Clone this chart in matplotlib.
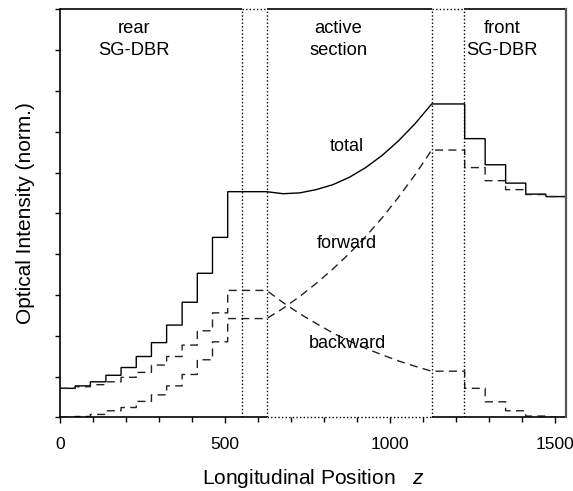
import matplotlib
matplotlib.use("Agg")
import matplotlib.pyplot as plt
from matplotlib.ticker import MultipleLocator, NullFormatter

plt.rcParams["font.family"] = ["Liberation Sans", "DejaVu Sans"]
plt.rcParams["mathtext.fontset"] = "custom"
plt.rcParams["mathtext.rm"] = "Liberation Sans"
plt.rcParams["mathtext.it"] = "Liberation Sans:italic"

# ---- rear SG-DBR: grating period edges and intensity levels (step-wise) ----
rear_z = [0, 46, 92, 139, 185, 231, 277, 323, 370, 416, 462, 508]
rear_total = [0.71, 0.77, 0.87, 1.03, 1.22, 1.49, 1.83, 2.26, 2.82, 3.53, 4.41, 5.53]
rear_forward = [0.00, 0.02, 0.07, 0.16, 0.24, 0.39, 0.55, 0.77, 1.05, 1.41, 1.85, 2.42]
rear_backward = [0.71, 0.75, 0.80, 0.87, 0.98, 1.10, 1.28, 1.49, 1.77, 2.12, 2.56, 3.11]

# ---- active section: sampled intensity along z ----
active_z = [626, 676, 726, 776, 826, 876, 926, 976, 1026, 1076, 1126]
active_total = [5.53, 5.48, 5.50, 5.58, 5.70, 5.88, 6.12, 6.42, 6.78, 7.20, 7.68]
active_forward = [2.42, 2.67, 2.96, 3.28, 3.63, 4.01, 4.43, 4.89, 5.40, 5.95, 6.55]
active_backward = [3.11, 2.81, 2.54, 2.30, 2.07, 1.87, 1.69, 1.53, 1.38, 1.25, 1.13]

# ---- front SG-DBR (preceded by the passive stretch after the active section) ----
front_z = [1126, 1226, 1288, 1350, 1411, 1472]
front_total = [7.68, 6.83, 6.19, 5.74, 5.47, 5.41]
front_forward = [6.55, 6.12, 5.80, 5.58, 5.46, 5.41]
front_backward = [1.13, 0.71, 0.38, 0.16, 0.03, 0.00]

z_end = 1532

# section boundaries (dotted)
section_edges = [551, 626, 1126, 1225]

section_names = ["rear\nSG-DBR", "active\nsection", "front\nSG-DBR"]
section_name_z = [224, 843, 1340]

curve_names = ["total", "forward", "backward"]
curve_name_pos = [(869, 6.63), (869, 4.26), (871, 1.81)]


def steps(edges, levels, end):
    xs, ys = [], []
    for i, v in enumerate(levels):
        x1 = edges[i + 1] if i + 1 < len(edges) else end
        xs += [edges[i], x1]
        ys += [v, v]
    return xs, ys


def profile(rz, rv, az, av, fz, fv):
    x1, y1 = steps(rz, rv, az[0])
    x3, y3 = steps(fz, fv, z_end)
    return x1 + list(az) + x3, y1 + list(av) + y3


fig = plt.figure(figsize=(5.73, 4.91), dpi=100)
ax = fig.add_axes([60 / 573, 1 - 417.3 / 491, 505.7 / 573, 408 / 491])
ax.set_xlim(0, z_end)
ax.set_ylim(0, 10)

zt, yt = profile(rear_z, rear_total, active_z, active_total, front_z, front_total)
zf, yf = profile(rear_z, rear_forward, active_z, active_forward, front_z, front_forward)
zb, yb = profile(rear_z, rear_backward, active_z, active_backward, front_z, front_backward)

ax.plot(zt, yt, color="black", lw=1.0, solid_joinstyle="miter")
ax.plot(zf, yf, color="#222222", lw=1.0, dashes=(5.8, 3.8))
ax.plot(zb, yb, color="#222222", lw=1.0, dashes=(5.8, 3.8))

for z in section_edges:
    ax.axvline(z, color="black", lw=1.0, ls=(0, (1, 1.6)))

# frame: solid where the sections are open, dotted across the section boxes
for s in ["top", "bottom"]:
    ax.spines[s].set_visible(False)
ax.spines["left"].set_linewidth(1.2)
ax.spines["right"].set_linewidth(1.6)
ax.spines["right"].set_color("#555555")

xt = ax.get_xaxis_transform()
solid = dict(color="black", lw=1.2, transform=xt, clip_on=False, solid_capstyle="butt")
dotted = dict(color="black", lw=1.0, ls=(0, (1, 1.6)), transform=xt, clip_on=False)
e = section_edges
ax.plot([0, e[0]], [1, 1], **solid)
ax.plot([e[1], e[2]], [1, 1], **solid)
ax.plot([e[3], z_end], [1, 1], **solid)
ax.plot([e[0], e[1]], [1, 1], **dotted)
ax.plot([e[2], e[3]], [1, 1], **dotted)
ax.plot([0, e[1]], [0, 0], **solid)
ax.plot([e[2], z_end], [0, 0], **solid)
ax.plot([e[1], e[2]], [0, 0], **dotted)

ax.xaxis.set_major_locator(MultipleLocator(500))
ax.xaxis.set_minor_locator(MultipleLocator(100))
ax.yaxis.set_major_locator(MultipleLocator(1))
ax.yaxis.set_major_formatter(NullFormatter())
ax.tick_params(axis="x", which="major", direction="out", length=4.5, width=1.0,
               labelsize=12.5, pad=10)
ax.tick_params(axis="x", which="minor", direction="out", length=3.5, width=1.0)
ax.tick_params(axis="y", which="major", direction="out", length=3.6, width=1.0)
ax.tick_params(top=False, right=False)

ax.set_xlabel("Longitudinal Position   $z$", fontsize=15, labelpad=10.5)
ax.set_ylabel("Optical Intensity (norm.)", fontsize=15, labelpad=11)

for name, zx in zip(section_names, section_name_z):
    ax.text(zx, 9.26, name, ha="center", va="center", fontsize=13.2, linespacing=1.45)

for name, (zx, yv) in zip(curve_names, curve_name_pos):
    ax.text(zx, yv, name, ha="center", va="center", fontsize=13)

fig.savefig("out.png", dpi=100)
